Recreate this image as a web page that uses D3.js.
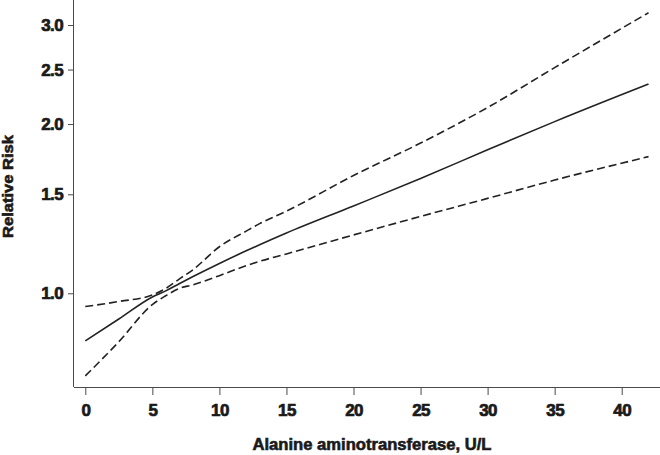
<!DOCTYPE html>
<html>
<head>
<meta charset="utf-8">
<script src="https://cdn.jsdelivr.net/npm/d3@7"></script>
<style>
  html, body { margin: 0; padding: 0; background: #fff; }
  svg { display: block; }
  text { font-family: "Liberation Sans", Arial, sans-serif; font-weight: bold; fill: #1a1a1a; }
</style>
</head>
<body>
<svg id="chart" width="660" height="455"></svg>
<script>
// ---- data ----
const alt       = [0, 2.5, 5, 6, 7, 8, 10, 12, 13, 15, 20, 25, 30, 35, 42];
const rrMain    = [0.823, 0.90, 0.985, 1.01, 1.04, 1.07, 1.13, 1.19, 1.22, 1.28, 1.43, 1.60, 1.80, 2.02, 2.356];
const rrUpper   = [0.947, 0.967, 0.993, 1.02, 1.06, 1.10, 1.21, 1.29, 1.33, 1.40, 1.62, 1.85, 2.14, 2.52, 3.155];
const rrLower   = [0.713, 0.82, 0.955, 0.99, 1.02, 1.035, 1.075, 1.12, 1.14, 1.175, 1.27, 1.37, 1.475, 1.59, 1.75];
const xTicks    = [0, 5, 10, 15, 20, 25, 30, 35, 40];
const yTicks    = [1.0, 1.5, 2.0, 2.5, 3.0];
const xTitle    = "Alanine aminotransferase, U/L";
const yTitle    = "Relative Risk";

// ---- layout ----
const svg = d3.select("#chart");
const mLeft = 74, mRight = 660, mTop = 0, mBottom = 387;

const x = d3.scaleLinear().domain([0, 40]).range([85.3, 621.7]);
const y = d3.scaleLog().domain([0.6813, 3.324]).range([mBottom, mTop]);

const axisColor = "#4a4a4a";

// axes
const gx = svg.append("g").attr("transform", `translate(0,${mBottom})`)
  .call(d3.axisBottom(x).tickValues(xTicks).tickSize(8).tickPadding(8).tickFormat(d3.format("d")));
gx.select(".domain").attr("d", `M${mLeft},0.5H${mRight}`).attr("stroke", axisColor);
gx.selectAll(".tick line").attr("stroke", axisColor);
gx.selectAll(".tick text").attr("font-size", 17).attr("letter-spacing", "-0.6")
  .attr("stroke", "#1a1a1a").attr("stroke-width", 0.7).attr("fill", "#1a1a1a")
  .attr("font-family", "Liberation Sans, Arial, sans-serif").attr("font-weight", "bold")
  .attr("dy", "0.71em").attr("y", 17);

const gy = svg.append("g").attr("transform", `translate(${mLeft},0)`)
  .call(d3.axisLeft(y).tickValues(yTicks).tickSize(6).tickPadding(5).tickFormat(d3.format(".1f")));
gy.select(".domain").attr("d", `M-0.5,${mTop}V${mBottom}`).attr("stroke", axisColor);
gy.selectAll(".tick line").attr("stroke", axisColor);
gy.selectAll(".tick text").attr("font-size", 17).attr("letter-spacing", "-0.6")
  .attr("stroke", "#1a1a1a").attr("stroke-width", 0.7).attr("fill", "#1a1a1a")
  .attr("font-family", "Liberation Sans, Arial, sans-serif").attr("font-weight", "bold");

// axis titles
svg.append("text")
  .attr("x", 372).attr("y", 450)
  .attr("text-anchor", "middle")
  .attr("font-size", 16)
  .attr("stroke", "#1a1a1a").attr("stroke-width", 0.6)
  .attr("textLength", 239).attr("lengthAdjust", "spacingAndGlyphs")
  .text(xTitle);

svg.append("text")
  .attr("transform", "translate(13,186.5) rotate(-90)")
  .attr("text-anchor", "middle")
  .attr("font-size", 14)
  .attr("stroke", "#1a1a1a").attr("stroke-width", 0.6)
  .attr("textLength", 103).attr("lengthAdjust", "spacingAndGlyphs")
  .text(yTitle);

// lines
const line = vals => d3.line()
  .x((d, i) => x(alt[i]))
  .y(d => y(d))
  .curve(d3.curveMonotoneX)(vals);

svg.append("path").attr("d", line(rrUpper))
  .attr("fill", "none").attr("stroke", "#222").attr("stroke-width", 1.6)
  .attr("stroke-dasharray", "8,4");
svg.append("path").attr("d", line(rrLower))
  .attr("fill", "none").attr("stroke", "#222").attr("stroke-width", 1.6)
  .attr("stroke-dasharray", "8,4");
svg.append("path").attr("d", line(rrMain))
  .attr("fill", "none").attr("stroke", "#222").attr("stroke-width", 1.6);
</script>
</body>
</html>
